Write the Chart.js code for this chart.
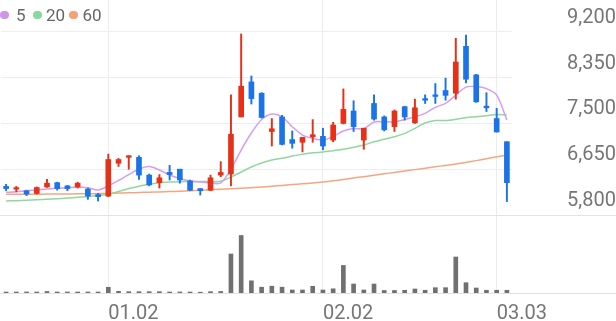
<!DOCTYPE html>
<html>
<head>
<meta charset="utf-8">
<script src="https://cdn.jsdelivr.net/npm/chart.js@4.4.1/dist/chart.umd.min.js"></script>
<style>
  html,body{margin:0;padding:0;background:#fff;}
  #wrap{position:relative;width:616px;height:321px;}
  .dot{position:absolute;top:10.5px;width:8.5px;height:8.5px;border-radius:50%;}
  .lab{position:absolute;top:5px;line-height:20px;font:17px Roboto,sans-serif;color:#666;}
</style>
</head>
<body>
<div id="wrap">
  <canvas id="myChart" width="616" height="321"></canvas>
  <span class="dot" style="left:0;background:#cf93ec"></span><span class="lab" style="left:16px">5</span>
  <span class="dot" style="left:33px;background:#8ad89b"></span><span class="lab" style="left:46px">20</span>
  <span class="dot" style="left:69px;background:#f6a077"></span><span class="lab" style="left:82.5px">60</span>
</div>
<script>
// fechas (dias habiles) y etiquetas visibles
const fechas = ['12.16','12.17','12.18','12.19','12.22','12.23','12.24','12.26','12.29','12.30',
                '01.02','01.05','01.06','01.07','01.08','01.09','01.12','01.13','01.14','01.15',
                '01.16','01.19','01.20','01.21','01.22','01.23','01.26','01.27','01.28','01.29',
                '01.30','02.02','02.03','02.04','02.05','02.06','02.09','02.10','02.11','02.12',
                '02.13','02.19','02.20','02.23','02.24','02.25','02.26','02.27','03.03','03.04']
const fechasVisibles = ['01.02','02.02','03.03']

// velas
const apertura = [6330,6280,6250,6200,6320,6400,6340,6320,6280,6180, 6150,6760,6870,6870,6540,6400,6590,6650,6430,6290,
                  6260,6540,6560,7620,8270,8060,7350,7620,7200,7150, 7250,7260,7190,7500,7730,7190,7870,7620,7440,7810,
                  7510,7960,8030,8110,8060,8930,8400,7820,7590,7160]
const maximo   = [6370,6330,6260,6320,6460,6410,6350,6410,6300,6200, 6930,6850,6900,6900,6560,6550,6720,6650,6450,6290,
                  6540,6790,8030,9160,8380,8070,7590,7650,7360,7240, 7570,7410,7520,8140,7920,7410,8030,7640,7750,7820,
                  7950,8030,8240,8340,9080,9140,8410,8070,7780,7160]
const minimo   = [6250,6230,6160,6190,6310,6260,6250,6300,6090,6060, 6140,6700,6650,6460,6340,6300,6450,6390,6250,6170,
                  6250,6510,6340,7620,7860,7600,7080,7100,7040,6970, 7150,7010,7160,7490,7350,7020,7560,7360,7350,7560,
                  7500,7870,7870,7930,7950,8250,7890,7720,7340,6050]
const cierre   = [6290,6300,6190,6310,6390,6290,6290,6390,6150,6140, 6830,6830,6900,6540,6360,6490,6550,6450,6260,6250,
                  6490,6590,7300,8190,7960,7610,7400,7110,7130,7240, 7290,7080,7470,7760,7440,7410,7580,7380,7730,7620,
                  7790,7930,8000,8020,8640,8320,7900,7790,7340,6400]

// medias moviles
const ma5  = [6221,6232,6251,6264,6282,6295,6306,6319,6306,6264, 6340,6440,6550,6653,6700,6635,6542,6477,6431,6412,
              6394,6394,6650,7006,7321,7571,7673,7623,7438,7284, 7223,7191,7256,7358,7404,7404,7525,7530,7530,7571,
              7623,7686,7798,7872,8026,8174,8183,8146,8026,7562]
const ma20 = [6060,6065,6073,6084,6093,6102,6115,6128,6143,6162, 6185,6235,6290,6335,6370,6399,6412,6418,6421,6421,
              6421,6425,6505,6598,6690,6764,6820,6852,6894,6926, 6954,6968,6993,7019,7056,7098,7159,7204,7252,7315,
              7408,7506,7553,7553,7575,7605,7623,7642,7664,7655]
const ma60 = [6184,6184,6186,6186,6188,6189,6191,6193,6195,6197, 6201,6206,6212,6217,6223,6228,6234,6240,6249,6258,
              6267,6277,6286,6297,6308,6319,6334,6349,6364,6379, 6394,6412,6434,6460,6486,6512,6538,6564,6590,6616,
              6642,6668,6694,6720,6746,6776,6809,6842,6879,6913]

// volumen (miles, estimado)
const volumen = [25,25,25,25,38,25,25,25,25,25, 143,43,33,33,33,33,25,25,25,20,
                 33,38,975,1438,305,145,170,145,75,75, 168,75,105,688,225,75,225,63,63,68,
                 100,68,133,133,900,258,125,68,68,68]

const ticksPrecio = [5800,6650,7500,8350,9200]

const rojo = '#e63017'
const azul = '#1a73e8'
const colores = apertura.map((o,i) => cierre[i] >= o ? rojo : azul)

// lineas que separan paneles, a todo el ancho
const lineasPanel = {
  id: 'lineasPanel',
  beforeDatasetsDraw(chart){
    const c = chart.ctx
    const v = chart.scales.v
    c.save()
    c.strokeStyle = '#e2e2e2'
    c.lineWidth = 1
    for (const yy of [v.top, v.bottom]) {
      c.beginPath()
      c.moveTo(0, Math.round(yy) + 0.5)
      c.lineTo(chart.width, Math.round(yy) + 0.5)
      c.stroke()
    }
    c.restore()
  }
}

const ctx = document.getElementById('myChart')
const myChart = new Chart(ctx, {
  type: 'bar',
  data: {
    labels: fechas,
    datasets: [
      {label:'cuerpo', data: apertura.map((o,i)=>[o, cierre[i]]), backgroundColor: colores, barThickness: 5, minBarLength: 1.5, grouped: false, yAxisID: 'y', order: 0},
      {label:'mecha', data: minimo.map((l,i)=>[l, maximo[i]]), backgroundColor: colores, barThickness: 1.3, grouped: false, yAxisID: 'y', order: 1},
      {type:'line', label:'5', data: ma5, borderColor:'#d59cf0', borderWidth:1.5, pointRadius:0, tension:0.3, yAxisID:'y', order: 2},
      {type:'line', label:'20', data: ma20, borderColor:'#8fd89e', borderWidth:1.5, pointRadius:0, tension:0.3, yAxisID:'y', order: 3},
      {type:'line', label:'60', data: ma60, borderColor:'#f6a57e', borderWidth:1.5, pointRadius:0, tension:0.3, yAxisID:'y', order: 4},
      {label:'volumen', data: volumen, backgroundColor:'#707070', barThickness: 4, grouped: false, yAxisID: 'v', order: 5}
    ]
  },
  options: {
    responsive: false,
    devicePixelRatio: 1,
    animation: false,
    layout: {padding: {left: 1, top: 0, right: 0, bottom: 0}},
    plugins: {legend: {display: false}, tooltip: {enabled: false}},
    scales: {
      x: {
        offset: true,
        grid: {offset: false, drawTicks: false, color: c => fechasVisibles.includes(fechas[c.index]) ? '#ececec' : 'rgba(0,0,0,0)'},
        border: {display: false},
        ticks: {
          autoSkip: false, maxRotation: 0, align: 'start', padding: 9,
          font: {family: 'Roboto', size: 20}, color: '#767676',
          callback: (v,i) => fechasVisibles.includes(fechas[i]) ? fechas[i] : ''
        },
        afterFit: s => { s.height = 28; s.paddingLeft = 0; s.paddingRight = 0 }
      },
      y: {
        position: 'right', stack: 'panel', stackWeight: 215,
        min: 5800, max: 9790,
        afterBuildTicks: s => { s.ticks = ticksPrecio.map(v => ({value: v})) },
        grid: {color: '#eeeeee', drawTicks: false},
        border: {display: false},
        ticks: {
          crossAlign: 'far', padding: 52, labelOffset: -14,
          font: {family: 'Roboto', size: 20}, color: '#767676',
          callback: v => v.toLocaleString('en-US')
        },
        afterFit: s => { s.width = 104; s.paddingTop = 0; s.paddingBottom = 0 }
      },
      v: {
        position: 'right', stack: 'panel', stackWeight: 78,
        min: 0, max: 1950,
        grid: {display: false},
        border: {display: false},
        ticks: {display: false},
        afterFit: s => { s.width = 104; s.paddingTop = 0; s.paddingBottom = 0 }
      }
    }
  },
  plugins: [lineasPanel]
})
</script>
</body>
</html>
